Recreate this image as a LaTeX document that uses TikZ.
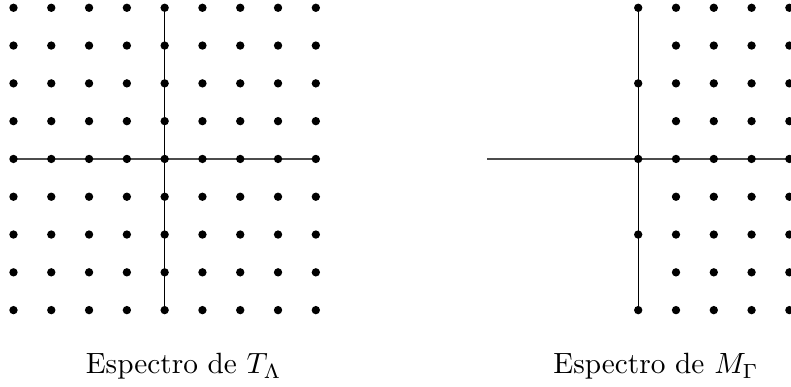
\documentclass[tikz,border=0pt]{standalone}
\begin{document}
\begin{tikzpicture}[x=0.4535cm,y=0.4535cm,
  dot/.style={circle,fill=black,inner sep=0pt,minimum size=2.85pt},
  axisline/.style={line width=0.45pt,black},
  haxis/.style={line width=0.5pt,black!70},
  caption/.style={anchor=base,font=\normalsize}]
\useasboundingbox (-4.357,-6.032) rectangle (16.573,4.206);
% axes of the left picture
\coordinate (La) at (-4,0);
\coordinate (Lb) at (4,0);
\draw[haxis] (La) -- (Lb);
% left grid
\foreach \i in {0,...,8}{
  \foreach \j in {0,...,8}{
    \node[dot] (L\i\j) at (\i-4,\j-4) {};
  }
}
\draw[axisline] (L40.center) -- (L48.center);
% right grid
\coordinate (hl) at (8.53,0);
\coordinate (hr) at (16.7,0);
\draw[haxis] (hl) -- (hr);
\foreach \j in {0,2,4,6,8}{
  \node[dot] (R0\j) at (12.53,\j-4) {};
}
\foreach \i in {1,...,4}{
  \foreach \j in {0,...,8}{
    \node[dot] (R\i\j) at (12.53+\i,\j-4) {};
  }
}
\draw[axisline] (R00.center) -- (R08.center);
% captions
\node[caption] (capL) at (0.5,-5.69) {Espectro de $T_\Lambda$};
\node[caption] (capR) at (13.0,-5.69) {Espectro de $M_\Gamma$};
\end{tikzpicture}
\end{document}
